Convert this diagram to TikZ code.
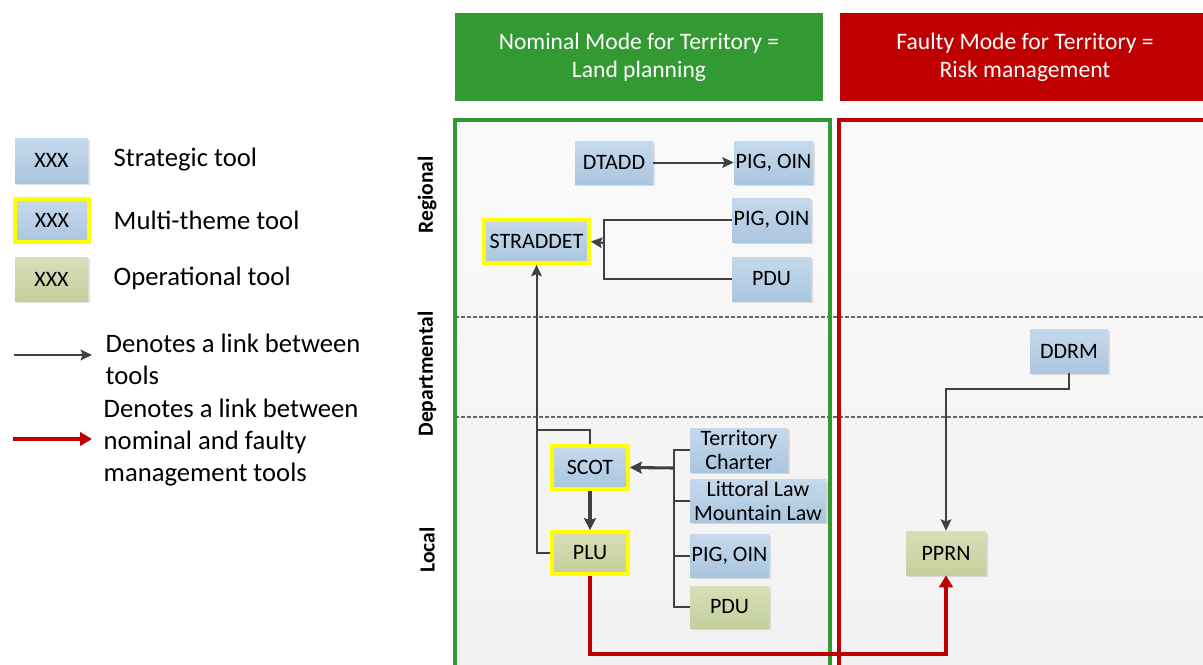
\documentclass[tikz,border=0pt]{standalone}
\usepackage{fontspec}
\setmainfont{Carlito}
\usetikzlibrary{arrows.meta,shadows}
\definecolor{btop}{HTML}{C6D9EC}
\definecolor{bbot}{HTML}{AAC6DF}
\definecolor{gtop}{HTML}{D6DFB7}
\definecolor{gbot}{HTML}{C4CF9C}
\definecolor{hdgreen}{HTML}{339933}
\definecolor{hdred}{HTML}{C00000}
\definecolor{lnk}{HTML}{404040}
\definecolor{ybord}{HTML}{FFFF00}
\tikzset{
  tool/.style={rectangle, inner sep=0pt, font=\fontsize{16.5}{18}\selectfont, align=center,
    drop shadow={shadow xshift=1.6pt, shadow yshift=-1.6pt, opacity=0.35, fill=gray!70}},
  strat/.style={tool, top color=btop, bottom color=bbot},
  oper/.style={tool, top color=gtop, bottom color=gbot},
  multi/.style={draw=ybord, line width=2.8pt},
  lnkline/.style={draw=lnk, line width=1.5pt},
  lnkarrow/.style={lnkline, -{Stealth[length=8.5pt,width=8pt,inset=1.5pt]}},
  thkarrow/.style={draw=lnk, line width=2.3pt, -{Stealth[length=9pt,width=9pt,inset=1.5pt]}},
  redarrow/.style={draw=hdred, line width=3pt, -{Triangle[length=9pt,width=10pt]}},
  header/.style={rectangle, inner sep=0pt, text=white, align=center, font=\fontsize{17.7}{21}\selectfont},
  lanelbl/.style={rotate=90, font=\bfseries\fontsize{16.2}{18}\selectfont},
  legtxt/.style={anchor=west, align=left, font=\fontsize{20}{24}\selectfont},
  sep/.style={draw=gray!80!black, line width=0.8pt, dash pattern=on 3pt off 1.5pt}
}
\begin{document}
\begin{tikzpicture}[x=0.75pt,y=-0.75pt]
\useasboundingbox (0,0) rectangle (1203,664);
\begin{scope}
\clip (0,0) rectangle (1203,664);
% headers
\node[header, fill=hdgreen, minimum width=368*0.75pt, minimum height=88*0.75pt] (hnom) at (639,57) {Nominal Mode for Territory =\\Land planning};
\node[header, fill=hdred, minimum width=370*0.75pt, minimum height=88*0.75pt] (hfau) at (1025,57) {Faulty Mode for Territory =\\Risk management};
% panels
\path[top color=gray!4, bottom color=gray!11] (455,120) rectangle (830,700);
\path[top color=gray!4, bottom color=gray!11] (839,120) rectangle (1215,700);
\draw[sep] (455,317) -- (1203,317);
\draw[sep] (455,417) -- (1203,417);
\draw[draw=hdgreen, line width=2.3pt] (455,700) -- (455,120) -- (830,120) -- (830,700);
\draw[draw=hdred, line width=2.3pt] (839,700) -- (839,120) -- (1215,120);
\end{scope}
% lane labels
\node[lanelbl] (lreg) at (427,195) {Regional};
\node[lanelbl] (ldep) at (427,374) {Departmental};
\node[lanelbl] (lloc) at (427,550) {Local};
% regional tools
\node[strat, minimum width=78*0.75pt, minimum height=43*0.75pt] (dtadd) at (614,162.5) {DTADD};
\node[strat, minimum width=79*0.75pt, minimum height=43*0.75pt] (pig1) at (773.5,162.5) {PIG, OIN};
\node[strat, multi, minimum width=105*0.75pt, minimum height=43*0.75pt] (straddet) at (536.5,241.5) {STRADDET};
\node[strat, minimum width=79*0.75pt, minimum height=44*0.75pt] (pig2) at (771.5,220) {PIG, OIN};
\node[strat, minimum width=79*0.75pt, minimum height=44*0.75pt] (pdu1) at (771.5,279) {PDU};
% local tools
\node[strat, multi, minimum width=76*0.75pt, minimum height=43*0.75pt] (scot) at (590,467.5) {SCOT};
\node[oper, multi, minimum width=76*0.75pt, minimum height=42*0.75pt] (plu) at (590,553) {PLU};
\node[strat, minimum width=98*0.75pt, minimum height=44*0.75pt] (tc) at (739,450) {Territory\\Charter};
\node[strat, minimum width=136*0.75pt, minimum height=43*0.75pt] (ll) at (758,500.5) {Littoral Law\\Mountain Law};
\node[strat, minimum width=79*0.75pt, minimum height=43*0.75pt] (pig3) at (729.5,555.5) {PIG, OIN};
\node[oper, minimum width=79*0.75pt, minimum height=42*0.75pt] (pdu3) at (729.5,607) {PDU};
% faulty tools
\node[strat, minimum width=78*0.75pt, minimum height=44*0.75pt] (ddrm) at (1069,351) {DDRM};
\node[oper, minimum width=80*0.75pt, minimum height=44*0.75pt] (pprn) at (946,553) {PPRN};
% connectors
\draw[lnkarrow] (dtadd.east) -- (pig1.west);
\coordinate (j1) at (604,243);
\draw[lnkline] (pig2.west) -| (j1) |- (pdu1.west);
\draw[lnkarrow] (j1) -- (straddet.east);
\coordinate (t1) at (536,430);
\draw[lnkline] (scot.north) |- (t1);
\draw[lnkarrow] (plu.west) -| (straddet.south);
\draw[thkarrow] (scot.south) -- (plu.north);
\coordinate (b1) at (674,468);
\draw[lnkline] (tc.west) -| (b1);
\draw[lnkline] (ll.west) -| (b1);
\draw[lnkline] (pig3.west) -| (b1);
\draw[lnkline] (pdu3.west) -| (b1);
\draw[thkarrow] (b1) -- (scot.east);
\draw[lnkarrow] (ddrm.south) -- ++(0,16) -| (pprn.north);
\coordinate (r1) at (0,654);
\draw[redarrow] (plu.south) -- (plu.south |- r1) -| (pprn.south);
% legend
\node[strat, minimum width=73*0.75pt, minimum height=45*0.75pt] (lg1) at (51.5,160.5) {XXX};
\node[strat, multi, minimum width=74*0.75pt, minimum height=43*0.75pt] (lg2) at (52,220.5) {XXX};
\node[oper, minimum width=73*0.75pt, minimum height=44*0.75pt] (lg3) at (51.5,279) {XXX};
\node[legtxt] (lt1) at (109,160) {Strategic tool};
\node[legtxt] (lt2) at (109,220) {Multi-theme tool};
\node[legtxt] (lt3) at (109,278) {Operational tool};
\coordinate (a1s) at (14,355);
\coordinate (a1e) at (92,355);
\draw[lnkarrow] (a1s) -- (a1e);
\node[legtxt] (lt4) at (101,359) {Denotes a link between\\tools};
\coordinate (a2s) at (13,439);
\coordinate (a2e) at (92,439);
\draw[redarrow] (a2s) -- (a2e);
\node[legtxt] (lt5) at (99,442.5) {Denotes a link between\\nominal and faulty\\management tools};
\end{tikzpicture}
\end{document}
